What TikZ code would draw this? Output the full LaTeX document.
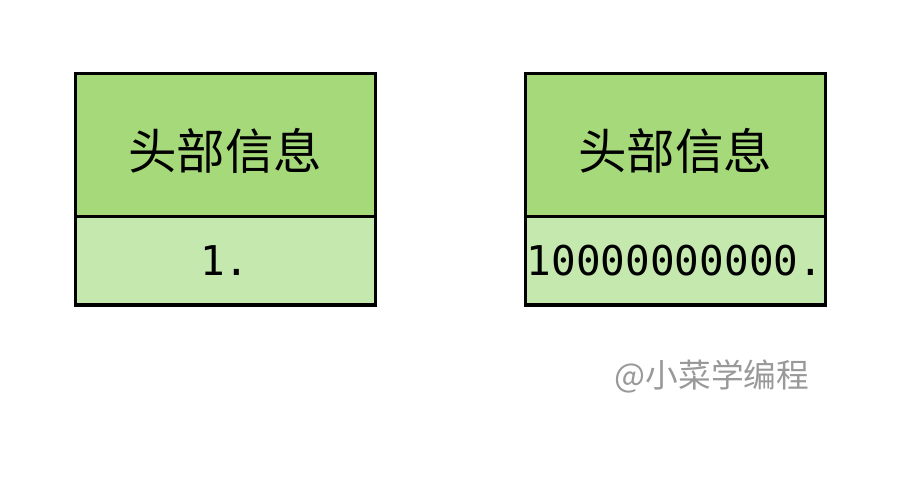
\documentclass[tikz,border=0pt]{standalone}
\usepackage{fontspec}
\newfontfamily\cjk{Noto Sans CJK SC}
\newfontfamily\monof{DejaVu Sans Mono}
\definecolor{topgreen}{HTML}{A6D97A}
\definecolor{botgreen}{HTML}{C5E8AE}
\definecolor{wmgray}{HTML}{999999}
\begin{document}
\begin{tikzpicture}[x=1pt,y=1pt,
  headbox/.style={draw=black,line width=3pt,fill=topgreen,minimum width=300pt,minimum height=143pt,inner sep=0pt},
  databox/.style={draw=black,line width=3pt,fill=botgreen,minimum width=300pt,minimum height=88pt,inner sep=0pt},
  headtext/.style={font=\cjk\fontsize{48.5}{52}\selectfont,inner sep=0pt},
  datatext/.style={font=\monof\fontsize{41}{46}\selectfont,inner sep=0pt}]
\useasboundingbox (0,0) rectangle (900,488);
\node[headbox] (h1) at (225,342.5) {};
\node[headtext] (t1) at (225,337) {头部信息};
\node[databox] (d1) at (225,227) {};
\node[datatext] (v1) at (225,227) {1.};
\node[headbox] (h2) at (675,342.5) {};
\node[headtext] (t2) at (675,337) {头部信息};
\node[databox] (d2) at (675,227) {};
\node[datatext] (v2) at (675,227) {10000000000.};
\node[text=wmgray,font=\cjk\fontsize{32.7}{36}\selectfont] (wm) at (712,112) {@小菜学编程};
\end{tikzpicture}
\end{document}
